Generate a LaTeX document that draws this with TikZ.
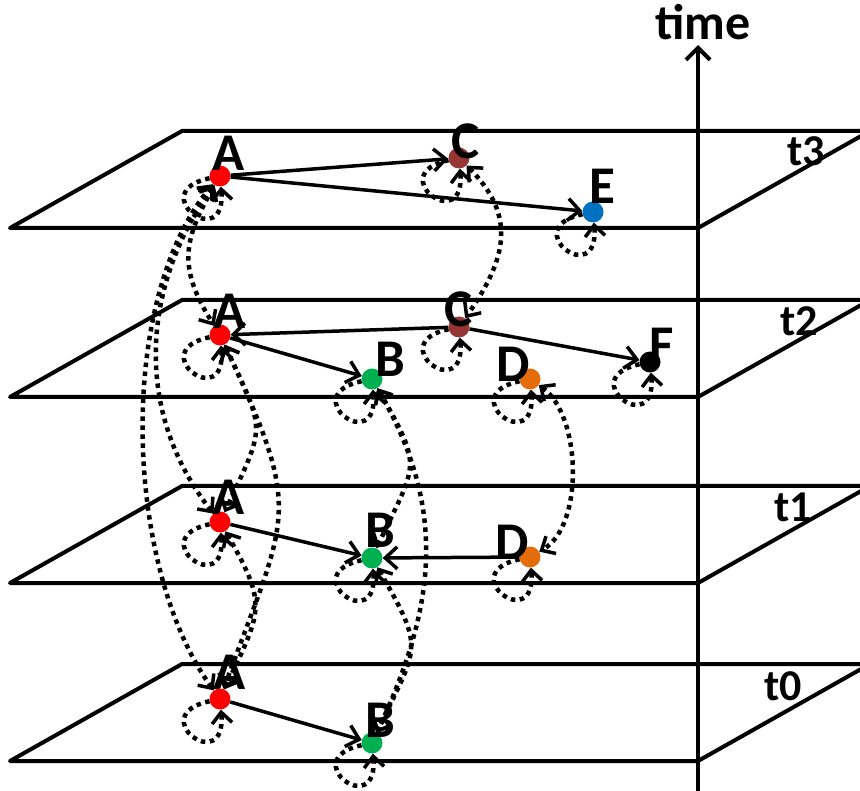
\documentclass[tikz,border=0pt]{standalone}
\usepackage{fontspec}
\setmainfont{Carlito}
\usetikzlibrary{arrows.meta}

\begin{document}
\begin{tikzpicture}[x=1pt,y=1pt,
  vtx/.style={circle, fill=#1, inner sep=0pt, minimum size=21pt},
  lab/.style={inner sep=0pt, font=\fontsize{53}{53}\selectfont\bfseries},
  tlab/.style={inner sep=0pt, font=\fontsize{44}{44}\selectfont\bfseries},
  plane/.style={line width=4pt, line join=round},
  arr/.style={line width=3.5pt, -{Straight Barb[length=12pt,width=22pt]}},
  tlink/.style={line width=4.5pt, dash pattern=on 4.5pt off 4.5pt, {Straight Barb[length=11pt,width=20pt,line width=3.5pt]}-{Straight Barb[length=11pt,width=20pt,line width=3.5pt]}},
  selfloop/.style={line width=4.5pt, dash pattern=on 4.5pt off 4.5pt, -{Straight Barb[length=11pt,width=20pt,line width=3.5pt]}, out=192, in=-85, min distance=68pt}]
\definecolor{cred}{RGB}{255,0,0}
\definecolor{cbrown}{RGB}{150,54,52}
\definecolor{cblue}{RGB}{0,112,192}
\definecolor{cgreen}{RGB}{0,176,80}
\definecolor{corange}{RGB}{228,108,10}
\useasboundingbox (0,0) rectangle (860,-791);

% planes
\foreach \yb/\tn/\lx/\ly in {228/t3/806/151, 397/t2/799/321, 583/t1/793/507, 761/t0/783/686}{
  \pgfmathtruncatemacro\yt{\yb-97}
  \draw[plane] (870,-\yt) -- (182,-\yt) -- (10,-\yb) -- (698,-\yb) -- cycle;
  \node[tlab] (l\tn) at (\lx,-\ly) {\tn};
}

% time axis
\coordinate (tbot) at (698,-791);
\coordinate (ttop) at (698,-45);
\draw[line width=4pt, -{Straight Barb[length=12pt,width=24pt]}] (tbot) -- (ttop);
\node[lab, font=\fontsize{50}{50}\selectfont\bfseries] (ltime) at (703,-22) {time};

% t3
\node[vtx=cred] (A3) at (220,-176) {};
\node[vtx=cbrown] (C3) at (459,-158) {};
\node[vtx=cblue] (E3) at (593,-212) {};
% t2
\node[vtx=cred] (A2) at (220,-335) {};
\node[vtx=cbrown] (C2) at (459,-327) {};
\node[vtx=cgreen] (B2) at (372,-379) {};
\node[vtx=corange] (D2) at (530,-379) {};
\node[vtx=black] (F2) at (650,-362) {};
% t1
\node[vtx=cred] (A1) at (220,-522) {};
\node[vtx=cgreen] (B1) at (372,-558) {};
\node[vtx=corange] (D1) at (530,-557) {};
% t0
\node[vtx=cred] (A0) at (220,-699) {};
\node[vtx=cgreen] (B0) at (372,-743) {};

% labels
\node[lab] (lA3) at (229,-153) {A};
\node[lab] (lC3) at (466,-141) {C};
\node[lab] (lE3) at (602,-186) {E};
\node[lab] (lA2) at (230,-311) {A};
\node[lab] (lC2) at (459,-309) {C};
\node[lab] (lB2) at (390,-359) {B};
\node[lab] (lD2) at (513,-364) {D};
\node[lab] (lF2) at (662,-345) {F};
\node[lab] (lA1) at (229,-497) {A};
\node[lab] (lB1) at (380,-530) {B};
\node[lab] (lD1) at (512,-542) {D};
\node[lab] (lA0) at (230,-672) {A};
\node[lab] (lB0) at (380,-720) {B};

% links within a time step
\draw[arr] (A3) -- (C3);
\draw[arr] (A3) -- (E3);
\draw[arr] (C2) -- (A2);
\draw[arr] (A2) -- (B2);
\draw[arr] (C2) -- (F2);
\draw[arr] (A1) -- (B1);
\draw[arr] (D1) -- (B1);
\draw[arr] (A0) -- (B0);

% links across time steps
\draw[tlink] (A3) to[out=230, in=126, looseness=0.77] (A0);
\draw[tlink] (A3) to[out=235, in=128, looseness=1.0] (A1);
\draw[tlink] (A3) to[out=240, in=122, looseness=1.2] (A2);
\draw[tlink] (A2) to[out=-65, in=65, looseness=1.5] (A1);
\draw[tlink] (A2) to[out=-65, in=70, looseness=1.4] (A0);
\draw[tlink] (A1) to[out=-60, in=65, looseness=1.4] (A0);
\draw[tlink] (B2) to[out=-60, in=65, looseness=1.5] (B1);
\draw[tlink] (B2) to[out=-60, in=65, looseness=1.04] (B0);
\draw[tlink] (B1) to[out=-60, in=65, looseness=1.5] (B0);
\draw[tlink] (C3) to[out=-45, in=55, looseness=1.2] (C2);
\draw[tlink] (D2) to[out=-35, in=30, looseness=0.8] (D1);

% self loops
\foreach \v in {A3,C3,E3,A2,C2,B2,D2,F2,A1,B1,D1,A0,B0}
  \draw[selfloop] (\v) to (\v);
\end{tikzpicture}
\end{document}
